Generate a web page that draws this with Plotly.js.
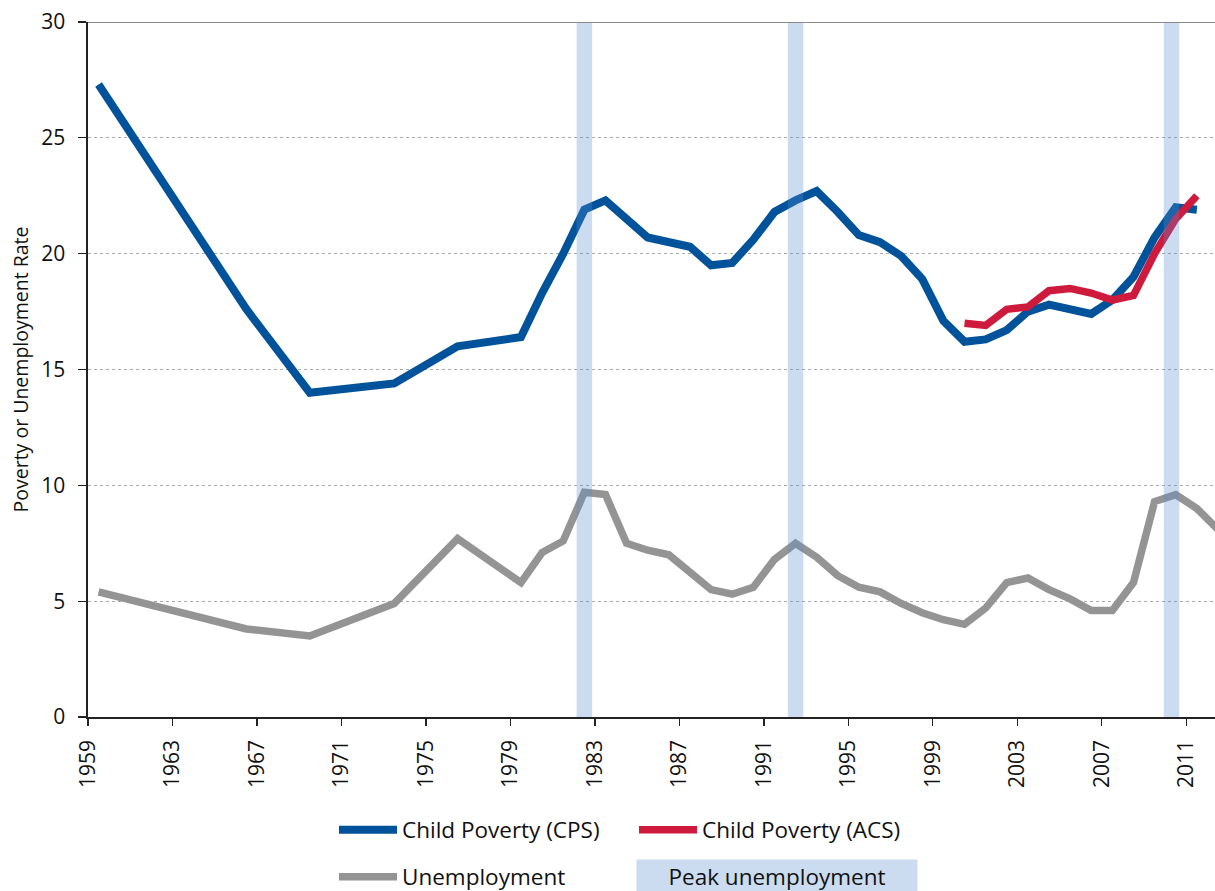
<!DOCTYPE html>
<html>
<head>
<meta charset="utf-8">
<script src="https://cdn.plot.ly/plotly-3.0.1.min.js"></script>
<style>html,body{margin:0;padding:0;background:#fff}#chart{width:1215px;height:891px}</style>
</head>
<body>
<div id="chart"></div>
<script>
// ---- data ----
const cpsYears = [1959,1966,1969,1973,1976,1979,1980,1981,1982,1983,1985,1986,1987,1988,1989,1990,1991,1992,1993,1994,1995,1996,1997,1998,1999,2000,2001,2002,2003,2004,2005,2006,2007,2008,2009,2010,2011];
const cpsRate  = [27.3,17.6,14.0,14.4,16.0,16.4,18.3,20.0,21.9,22.3,20.7,20.5,20.3,19.5,19.6,20.6,21.8,22.3,22.7,21.8,20.8,20.5,19.9,18.9,17.1,16.2,16.3,16.7,17.5,17.8,17.6,17.4,18.0,19.0,20.7,22.0,21.9];

const acsYears = [2000,2001,2002,2003,2004,2005,2006,2007,2008,2009,2010,2011];
const acsRate  = [17.0,16.9,17.6,17.7,18.4,18.5,18.3,18.0,18.2,20.0,21.5,22.5];

const unempYears = [1959,1966,1969,1973,1976,1979,1980,1981,1982,1983,1984,1985,1986,1987,1988,1989,1990,1991,1992,1993,1994,1995,1996,1997,1998,1999,2000,2001,2002,2003,2004,2005,2006,2007,2008,2009,2010,2011,2012];
const unempRate  = [5.4,3.8,3.5,4.9,7.7,5.8,7.1,7.6,9.7,9.6,7.5,7.2,7.0,6.2,5.5,5.3,5.6,6.8,7.5,6.9,6.1,5.6,5.4,4.9,4.5,4.2,4.0,4.7,5.8,6.0,5.5,5.1,4.6,4.6,5.8,9.3,9.6,9.0,8.1];

const peakYears = [1982, 1992, 2009.8];
const bandTop = 30;

const tickYears = [1959,1963,1967,1971,1975,1979,1983,1987,1991,1995,1999,2003,2007,2011];

// ---- build traces ----
const FONT = '"Open Sans", Lato, sans-serif';
const bandX = [], bandY = [];
peakYears.forEach(yr => { bandX.push(yr, yr, null); bandY.push(0, bandTop, null); });

const traces = [
  {x: cpsYears, y: cpsRate, type: 'scatter', mode: 'lines', name: 'Child Poverty (CPS)',
   line: {color: '#00539B', width: 8}, legend: 'legend'},
  {x: acsYears, y: acsRate, type: 'scatter', mode: 'lines', name: 'Child Poverty (ACS)',
   line: {color: '#CE1A3C', width: 7.5}, legend: 'legend'},
  {x: unempYears, y: unempRate, type: 'scatter', mode: 'lines', name: 'Unemployment',
   line: {color: '#949494', width: 7.5}, legend: 'legend2'},
  {x: bandX, y: bandY, type: 'scatter', mode: 'lines', name: 'Peak unemployment',
   line: {color: 'rgba(90,142,206,0.31)', width: 15.5}, showlegend: false, hoverinfo: 'skip'}
];

const layout = {
  width: 1215, height: 891,
  margin: {l: 88, r: 0, t: 22, b: 174, pad: 0},
  paper_bgcolor: '#fff', plot_bgcolor: '#fff',
  font: {family: FONT, color: '#111', size: 21},
  xaxis: {
    range: [1958.5, 2011.86],
    tickmode: 'array',
    tickvals: tickYears.map(y => y - 0.5),
    ticktext: tickYears.map(String),
    ticklabelshift: 10.5,
    ticklabelstandoff: 6,
    tickangle: -90,
    ticks: 'outside', ticklen: 7, tickwidth: 1.3, tickcolor: '#222',
    showline: true, linecolor: '#222', linewidth: 1.6,
    showgrid: false, zeroline: false,
    tickfont: {family: FONT, size: 21, color: '#111'}
  },
  yaxis: {
    range: [0, 30], dtick: 5, tick0: 0,
    ticks: 'outside', ticklen: 8, tickwidth: 1.3, tickcolor: '#222',
    ticklabelstandoff: 9,
    showline: true, linecolor: '#222', linewidth: 1.6,
    showgrid: true, gridcolor: '#aaaaaa', gridwidth: 1, griddash: 'dot',
    zeroline: false,
    tickfont: {family: FONT, size: 21, color: '#111'},
    title: {text: 'Poverty or Unemployment Rate', font: {family: FONT, size: 19.5, color: '#111'}, standoff: 7}
  },
  shapes: [
    {type: 'line', xref: 'paper', yref: 'y', x0: 0, x1: 1, y0: 30, y1: 30,
     line: {color: '#8a8a8a', width: 2}, layer: 'above'}
  ],
  showlegend: true,
  legend: {
    orientation: 'h', xref: 'container', yref: 'container',
    x: 334/1215, y: 1 - 830/891, xanchor: 'left', yanchor: 'middle',
    itemwidth: 58, entrywidth: 227, entrywidthmode: 'pixels',
    font: {family: FONT, size: 22.5, color: '#111'}, bgcolor: 'rgba(0,0,0,0)'
  },
  legend2: {
    orientation: 'h', xref: 'container', yref: 'container',
    x: 334/1215, y: 1 - 877/891, xanchor: 'left', yanchor: 'middle',
    itemwidth: 58,
    font: {family: FONT, size: 22.5, color: '#111'}, bgcolor: 'rgba(0,0,0,0)'
  },
  annotations: [
    {text: 'Peak unemployment', xref: 'paper', yref: 'paper',
     x: (777 - 88) / 1127, y: (717 - 876) / 695, xanchor: 'center', yanchor: 'middle',
     showarrow: false, bgcolor: '#CCDCF0', width: 278, height: 30,
     font: {family: FONT, size: 22.5, color: '#111'}}
  ]
};

Plotly.newPlot('chart', traces, layout, {displayModeBar: false, staticPlot: true});
</script>
</body>
</html>
